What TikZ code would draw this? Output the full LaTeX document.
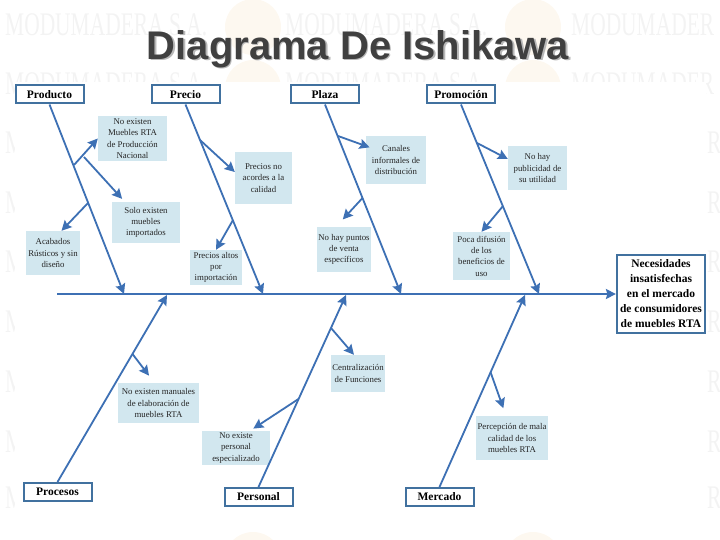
\documentclass[tikz,border=0pt]{standalone}
\usepackage{fontspec}
\setmainfont{Liberation Serif}
\newfontfamily\titlefont{Liberation Sans}
\usetikzlibrary{arrows.meta}
\definecolor{linea}{HTML}{3D70B4}
\definecolor{borde}{HTML}{41719F}
\definecolor{celeste}{HTML}{D2E7EF}
\definecolor{marca}{HTML}{F3F3F3}
\definecolor{sello}{HTML}{FDF8F0}

\begin{document}
\begin{tikzpicture}[x=1pt,y=-1pt,>={Stealth[length=10pt,width=10pt,inset=1.5pt]},
    head/.style={draw=borde,line width=2pt,fill=white,align=center,inner sep=0pt,minimum width=68pt,minimum height=18pt,font=\fontsize{11.5}{13}\selectfont\bfseries},
    cause/.style={fill=celeste,align=center,inner sep=0pt,font=\fontsize{8.8}{11.3}\selectfont,text=black!85},
    effect/.style={head,line width=2.2pt,minimum width=88pt,minimum height=78pt,font=\fontsize{11.5}{15}\selectfont\bfseries},
    bone/.style={draw=linea,line width=1.8pt,->},
    twig/.style={bone},
    wm/.style={anchor=west,inner sep=0pt,text=marca,font=\fontsize{33}{33}\selectfont}]
  \useasboundingbox (0,0) rectangle (720,540);
  % watermark
  \foreach \wy in {25,84}{
    \node[wm] at (5,\wy) {\scalebox{.65}[1]{MODUMADERA S.A.}};
    \node[wm] at (285,\wy) {\scalebox{.65}[1]{MODUMADERA S.A.}};
    \node[wm] at (571,\wy) {\scalebox{.65}[1]{MODUMADER}};}
  \foreach \wy in {143,203,262,322,382,442,498}{
    \node[wm] at (5,\wy) {\scalebox{.65}[1]{M}};
    \node[wm] at (707,\wy) {\scalebox{.65}[1]{R}};}
  \foreach \wx in {253,533}{
    \fill[sello] (\wx,27) circle (28);
    \fill[sello] (\wx,88) circle (28);
    \fill[sello] (\wx,490) circle (30);
    \fill[sello] (\wx,561) circle (29);}
  \fill[white] (15,82) rectangle (706,508);
  \fill[white] (0,508) rectangle (720,531);
  % title
  \node[text=black!28,font=\titlefont\fontsize{40}{40}\selectfont\bfseries] (sombra) at (359.5,50.5) {Diagrama De Ishikawa};
  \node[text=black!75,font=\titlefont\fontsize{40}{40}\selectfont\bfseries] (titulo) at (358,49) {Diagrama De Ishikawa};
  % heads
  \node[head] (producto) at (49.5,94.5) {Producto};
  \node[head] (precio) at (185.5,94.5) {Precio};
  \node[head] (plaza) at (325,94.5) {Plaza};
  \node[head] (promocion) at (461,94.5) {Promoción};
  \node[head] (procesos) at (57.5,492) {Procesos};
  \node[head] (personal) at (258.5,497) {Personal};
  \node[head] (mercado) at (439.5,497) {Mercado};
  \node[effect] (efecto) at (661,294) {Necesidades\\insatisfechas\\en el mercado\\de consumidores\\de muebles RTA};
  % causes
  \node[cause,minimum width=69pt,minimum height=45pt] (noexisten) at (132.5,138.5) {No existen\\Muebles RTA\\de Producción\\Nacional};
  \node[cause,minimum width=57pt,minimum height=52pt] (acordes) at (263.5,178) {Precios no\\acordes a la\\calidad};
  \node[cause,minimum width=68pt,minimum height=41pt] (solo) at (146,222.5) {Solo existen\\muebles\\importados};
  \node[cause,minimum width=54pt,minimum height=44pt] (acabados) at (53,253) {Acabados\\Rústicos y sin\\diseño};
  \node[cause,minimum width=52pt,minimum height=35pt] (altos) at (216,267.5) {Precios altos\\por\\importación};
  \node[cause,minimum width=60pt,minimum height=48pt] (canales) at (396,160) {Canales\\informales de\\distribución};
  \node[cause,minimum width=54pt,minimum height=45pt] (puntos) at (344,249.5) {No hay puntos\\de venta\\específicos};
  \node[cause,minimum width=59pt,minimum height=44pt] (publicidad) at (537.5,168) {No hay\\publicidad de\\su utilidad};
  \node[cause,minimum width=57pt,minimum height=48pt] (poca) at (481.5,256) {Poca difusión\\de los\\beneficios de\\uso};
  \node[cause,minimum width=54pt,minimum height=37pt] (centralizacion) at (358,373.5) {Centralización\\de Funciones};
  \node[cause,minimum width=81pt,minimum height=40pt] (manuales) at (158.5,403) {No existen manuales\\de elaboración de\\muebles RTA};
  \node[cause,minimum width=68pt,minimum height=34pt] (noperso) at (236,448) {No existe\\personal\\especializado};
  \node[cause,minimum width=72pt,minimum height=44pt] (percepcion) at (512,438) {Percepción de mala\\calidad de los\\muebles RTA};
  % spine
  \coordinate (cola) at (57,294);
  \coordinate (sp1) at (124,294);
  \coordinate (sp2) at (263,294);
  \coordinate (sp3) at (401,294);
  \coordinate (sp4) at (539,294);
  \coordinate (sp5) at (167,295);
  \coordinate (sp6) at (346,295);
  \coordinate (sp7) at (525,295);
  \draw[bone](cola)--(efecto);
  \draw[bone](producto.south)--(sp1); \draw[bone](precio.south)--(sp2);
  \draw[bone](plaza.south)--(sp3); \draw[bone](promocion.south)--(sp4);
  \draw[bone](procesos.north)--(sp5); \draw[bone](personal.north)--(sp6); \draw[bone](mercado.north)--(sp7);
  % twigs
  \coordinate (t1) at (74,165); \coordinate (t2) at (84,157); \coordinate (t3) at (88,203);
  \coordinate (t4) at (200,140); \coordinate (t5) at (233,220);
  \coordinate (t6) at (338,136); \coordinate (t7) at (362.5,198);
  \coordinate (t8) at (477,143); \coordinate (t9) at (503,206);
  \coordinate (t10) at (132.5,354); \coordinate (t11) at (331,328); \coordinate (t12) at (298.5,399);
  \coordinate (t13) at (490.5,372);
  \draw[twig](t1)--(noexisten.west);
  \draw[twig,shorten >=4pt](t2)--([xshift=13pt]solo.north west);
  \draw[twig](t3)--([xshift=8.5pt]acabados.north);
  \draw[twig](t4)--([yshift=6pt]acordes.west);
  \draw[twig](t5)--(altos.north);
  \draw[twig,shorten >=-4pt](t6)--([yshift=14pt]canales.west);
  \draw[twig,shorten >=10pt](t7)--([xshift=-8pt]puntos.north);
  \draw[twig](t8)--([yshift=9pt]publicidad.west);
  \draw[twig](t9)--(poca.north);
  \draw[twig,shorten >=9pt](t10)--([xshift=-4pt]manuales.north);
  \draw[twig](t11)--([xshift=-4pt]centralizacion.north);
  \draw[twig,shorten >=4pt](t12)--([xshift=14pt]noperso.north);
  \draw[twig,shorten >=8pt](t13)--([xshift=-6pt]percepcion.north);
\end{tikzpicture}
\end{document}
